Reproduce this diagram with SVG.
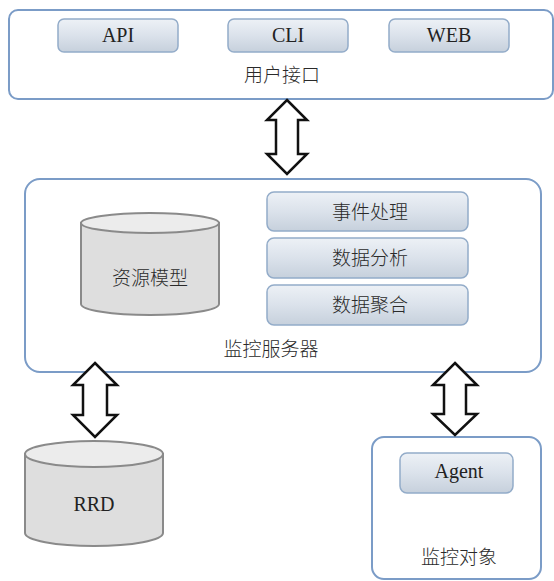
<svg xmlns="http://www.w3.org/2000/svg" width="554" height="581" viewBox="0 0 554 581">
  <defs>
    <linearGradient id="btnFill" x1="0" y1="0" x2="0" y2="1">
      <stop offset="0" stop-color="#edf1f6"/>
      <stop offset="0.5" stop-color="#dbe2eb"/>
      <stop offset="1" stop-color="#c6d0dc"/>
    </linearGradient>
    <style>
      .frame { fill: #ffffff; stroke: #7b9cc7; stroke-width: 2; }
      .btn { fill: url(#btnFill); stroke: #93acc9; stroke-width: 1.5; }
      .cyl-body { fill: #dedede; stroke: #8a8a8a; stroke-width: 2; }
      .cyl-top { fill: #ececec; stroke: #8a8a8a; stroke-width: 2; }
      .arrow { fill: #ffffff; stroke: #111111; stroke-width: 2.5; stroke-linejoin: miter; }
      .lat { font-family: "Liberation Serif", "Times New Roman", serif; font-size: 20px; fill: #222222; text-anchor: middle; }
      .cjk { font-family: "Noto Sans CJK SC", "Noto Sans", sans-serif; font-size: 19px; font-weight: 300; fill: #2a2a2a; text-anchor: middle; }
    </style>
  </defs>

  <!-- user interface layer -->
  <g id="user-interface">
    <rect class="frame" x="9" y="10" width="544" height="89" rx="9"/>
    <text class="cjk" x="282" y="82">用户接口</text>
  </g>
  <g id="api">
    <rect class="btn" x="58" y="19" width="120" height="33" rx="6"/>
    <text class="lat" x="118" y="42">API</text>
  </g>
  <g id="cli">
    <rect class="btn" x="228" y="19" width="120" height="33" rx="6"/>
    <text class="lat" x="288" y="42">CLI</text>
  </g>
  <g id="web">
    <rect class="btn" x="389" y="19" width="120" height="33" rx="6"/>
    <text class="lat" x="449" y="42">WEB</text>
  </g>

  <!-- monitoring server -->
  <g id="monitor-server">
    <rect class="frame" x="25" y="179" width="516" height="193" rx="15"/>
    <text class="cjk" x="271" y="356">监控服务器</text>
  </g>
  <g id="resource-model">
    <path class="cyl-body" d="M81,223 V304 A69,11 0 0 0 219,304 V223 Z"/>
    <ellipse class="cyl-top" cx="150" cy="223" rx="69" ry="10"/>
    <text class="cjk" x="150" y="285">资源模型</text>
  </g>
  <g id="event-handling">
    <rect class="btn" x="267" y="192" width="201" height="39" rx="7"/>
    <text class="cjk" x="370" y="219">事件处理</text>
  </g>
  <g id="data-analysis">
    <rect class="btn" x="267" y="238" width="201" height="40" rx="7"/>
    <text class="cjk" x="370" y="265">数据分析</text>
  </g>
  <g id="data-aggregation">
    <rect class="btn" x="267" y="285" width="201" height="40" rx="7"/>
    <text class="cjk" x="370" y="312">数据聚合</text>
  </g>

  <!-- round robin database -->
  <g id="rrd">
    <path class="cyl-body" d="M25,454 V533 A69,13 0 0 0 163,533 V454 Z"/>
    <ellipse class="cyl-top" cx="94" cy="454" rx="69" ry="13"/>
    <text class="lat" x="94" y="511">RRD</text>
  </g>

  <!-- monitored target -->
  <g id="monitored-target">
    <rect class="frame" x="372" y="437" width="169" height="142" rx="12"/>
    <text class="cjk" x="459" y="564">监控对象</text>
  </g>
  <g id="agent">
    <rect class="btn" x="400" y="453" width="113" height="40" rx="7"/>
    <text class="lat" x="459" y="478">Agent</text>
  </g>

  <!-- bidirectional links -->
  <g id="connectors">
    <path class="arrow" d="M287,100 L307,120 L298,120 L298,154 L307,154 L287,174 L267,154 L276,154 L276,120 L267,120 Z"/>
    <path class="arrow" d="M95,363 L117,385 L107,385 L107,415 L117,415 L95,437 L73,415 L83,415 L83,385 L73,385 Z"/>
    <path class="arrow" d="M455,363 L477,385 L466,385 L466,414 L477,414 L455,435 L433,414 L444,414 L444,385 L433,385 Z"/>
  </g>
</svg>
